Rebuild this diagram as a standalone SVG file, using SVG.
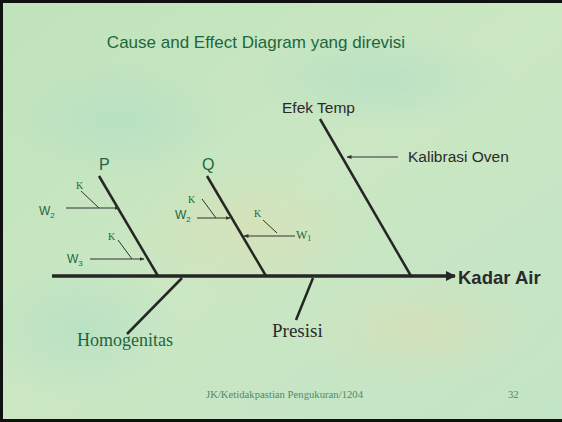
<svg xmlns="http://www.w3.org/2000/svg" width="562" height="422" viewBox="0 0 562 422">
<style>
.bone{stroke:#262626;stroke-width:2.5;fill:none;stroke-linecap:butt}
.spine{stroke:#262626;stroke-width:3.5;fill:none}
.thin{stroke:#333;stroke-width:1;fill:none}
.g{fill:#1d6640;font-family:"Liberation Sans",Arial,sans-serif}
.d{fill:#2a2a2a;font-family:"Liberation Sans",Arial,sans-serif}
.s{font-family:"Liberation Serif","Times New Roman",serif}
</style>
<defs>
<linearGradient id="bg" x1="0" y1="0" x2="1" y2="1">
<stop offset="0" stop-color="#bfe3bb"/>
<stop offset="0.5" stop-color="#cbe7c3"/>
<stop offset="1" stop-color="#c2e4c6"/>
</linearGradient>
<radialGradient id="b1"><stop offset="0" stop-color="#e0ddb0" stop-opacity="0.5"/><stop offset="1" stop-color="#e0ddb0" stop-opacity="0"/></radialGradient>
<radialGradient id="b2"><stop offset="0" stop-color="#a9dcc6" stop-opacity="0.5"/><stop offset="1" stop-color="#a9dcc6" stop-opacity="0"/></radialGradient>
<marker id="ah" viewBox="0 0 10 10" refX="9" refY="5" markerWidth="5" markerHeight="5" orient="auto"><path d="M0,1 L10,5 L0,9 z" fill="#333"/></marker>
<marker id="big" viewBox="0 0 10 10" refX="9" refY="5" markerWidth="3" markerHeight="3" orient="auto"><path d="M0,0 L10,5 L0,10 z" fill="#262626"/></marker>
</defs>
<rect x="0" y="0" width="562" height="422" fill="url(#bg)"/>
<ellipse cx="250" cy="230" rx="120" ry="70" fill="url(#b1)"/>
<ellipse cx="120" cy="120" rx="110" ry="60" fill="url(#b2)"/>
<ellipse cx="420" cy="330" rx="120" ry="60" fill="url(#b1)"/>
<ellipse cx="80" cy="330" rx="100" ry="70" fill="url(#b2)"/>
<ellipse cx="380" cy="80" rx="130" ry="50" fill="url(#b2)"/>
<path d="M1.5,421 V1.5 H562" fill="none" stroke="#111" stroke-width="3"/>
<path d="M0,420.5 H562" stroke="#111" stroke-width="3"/>

<text class="g" x="256" y="48" font-size="17" text-anchor="middle">Cause and Effect Diagram yang direvisi</text>

<g id="connectors">
<line class="spine" x1="52" y1="276" x2="455" y2="276" marker-end="url(#big)"/>
<line class="bone" x1="320" y1="119" x2="411" y2="276"/>
<line class="bone" x1="99" y1="176" x2="158" y2="276"/>
<line class="bone" x1="207" y1="176" x2="266" y2="276"/>
<line class="bone" x1="182" y1="278" x2="127" y2="334"/>
<line class="bone" x1="313" y1="278" x2="296" y2="320"/>
<line class="thin" x1="398" y1="157" x2="347" y2="157" marker-end="url(#ah)"/>
<line class="thin" x1="66" y1="208" x2="119" y2="208" marker-end="url(#ah)"/>
<line class="thin" x1="81" y1="191" x2="99" y2="208"/>
<line class="thin" x1="90" y1="259" x2="144" y2="259" marker-end="url(#ah)"/>
<line class="thin" x1="118" y1="240" x2="132" y2="259"/>
<line class="thin" x1="197" y1="218" x2="230" y2="218" marker-end="url(#ah)"/>
<line class="thin" x1="202" y1="199" x2="216" y2="218"/>
<line class="thin" x1="295" y1="236" x2="244" y2="236" marker-end="url(#ah)"/>
<line class="thin" x1="263" y1="220" x2="277" y2="233"/>
</g>

<g id="kadar-air"><text class="d" x="458" y="284" font-size="18.5" font-weight="bold">Kadar Air</text></g>
<g id="efek-temp"><text class="d" x="282" y="113" font-size="15.5">Efek Temp</text></g>
<g id="kalibrasi-oven"><text class="d" x="408" y="162" font-size="15.5">Kalibrasi Oven</text></g>
<g id="P">
<text class="g" x="99" y="170" font-size="16">P</text>
<text class="g s" x="76" y="189" font-size="10">K</text>
<text class="g" x="39" y="215" font-size="12">W<tspan font-size="8" dy="3">2</tspan></text>
<text class="g s" x="108" y="240" font-size="10">K</text>
<text class="g" x="67" y="263" font-size="12">W<tspan font-size="8" dy="3">3</tspan></text>
</g>
<g id="Q">
<text class="g" x="202" y="170" font-size="16">Q</text>
<text class="g s" x="188" y="203" font-size="10">K</text>
<text class="g" x="175" y="219" font-size="12">W<tspan font-size="8" dy="3">2</tspan></text>
<text class="g s" x="254" y="217" font-size="10">K</text>
<text class="g s" x="296" y="239" font-size="12">W<tspan font-size="8" dy="2">1</tspan></text>
</g>
<g id="homogenitas"><text class="g s" x="77" y="346" font-size="18">Homogenitas</text></g>
<g id="presisi"><text class="d s" x="272" y="337" font-size="19">Presisi</text></g>
<text class="s" x="206" y="398" font-size="10.7" fill="#4f8a68">JK/Ketidakpastian Pengukuran/1204</text>
<text class="s" x="508" y="398" font-size="10.7" fill="#4f8a68">32</text>
</svg>
